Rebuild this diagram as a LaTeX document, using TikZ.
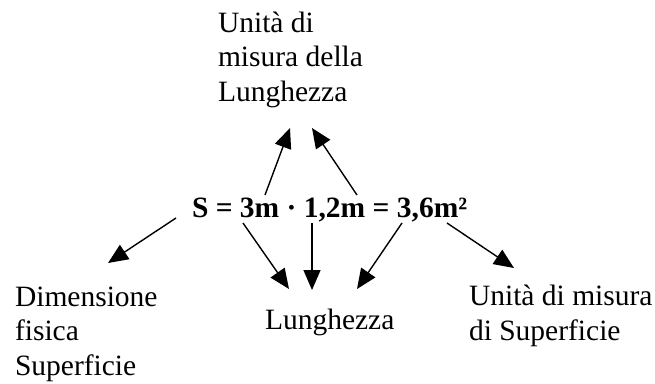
\documentclass[tikz,border=0pt]{standalone}
\usepackage{fontspec}
\setmainfont{Liberation Serif}
\usetikzlibrary{arrows.meta}
\begin{document}
\begin{tikzpicture}[x=1pt,y=-1pt,
  lbl/.style={inner sep=0pt,outer sep=0pt,align=left,anchor=base west,
    font=\fontsize{29.5}{34.5}\selectfont},
  eqn/.style={inner sep=0pt,outer sep=0pt,anchor=base west,
    font=\fontsize{29.5}{34.5}\selectfont\bfseries},
  arr/.style={line width=1.4pt,-{Triangle[length=20pt,width=17pt]}}]
\useasboundingbox (0,0) rectangle (655,383);
% anchors are at the baseline of each label's last line
\node[lbl] (top) at (218,101) {Unità di\\misura della\\Lunghezza};
\node[eqn] (eq) at (192,217) {S = 3m · 1,2m = 3,6m²};
\node[lbl] (dim) at (15,375) {Dimensione\\fisica\\Superficie};
\node[lbl] (lun) at (265,329) {Lunghezza};
\node[lbl] (uni) at (469,340) {Unità di misura\\di Superficie};
% arrow ends
\coordinate (t1) at (265,195); \coordinate (h1) at (290,128);
\coordinate (t2) at (357,195); \coordinate (h2) at (312,128);
\coordinate (t3) at (176,218); \coordinate (h3) at (108,263);
\coordinate (t4) at (243,223); \coordinate (h4) at (289,289);
\coordinate (t5) at (312,223); \coordinate (h5) at (312,290);
\coordinate (t6) at (402,223); \coordinate (h6) at (357,289);
\coordinate (t7) at (447,223); \coordinate (h7) at (514,268);
\draw[arr] (t1) -- (h1);
\draw[arr] (t2) -- (h2);
\draw[arr] (t3) -- (h3);
\draw[arr] (t4) -- (h4);
\draw[arr] (t5) -- (h5);
\draw[arr] (t6) -- (h6);
\draw[arr] (t7) -- (h7);
\end{tikzpicture}
\end{document}
